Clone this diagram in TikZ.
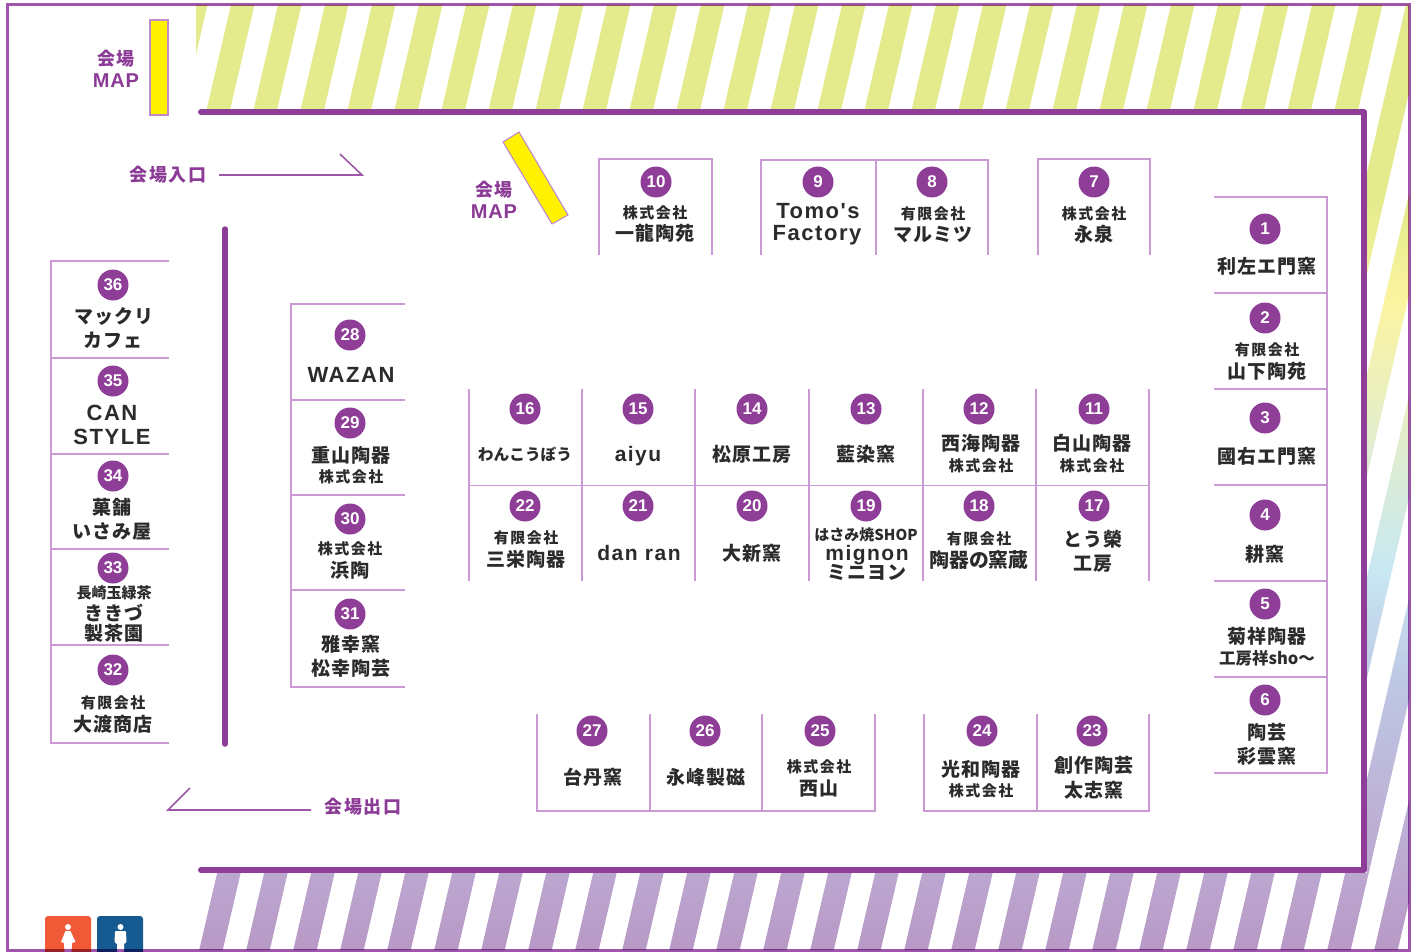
\documentclass[tikz,border=0pt]{standalone}
\usepackage{fontspec}
\usetikzlibrary{calc}
\newfontfamily\jpsp[LetterSpace=4]{Noto Sans CJK JP}
\newfontfamily\jpss[LetterSpace=10]{Noto Sans CJK JP}
\newfontfamily\jpla[LetterSpace=9]{Noto Sans CJK JP}
\newfontfamily\jptight{Noto Sans CJK JP}
\newfontfamily\latsp[LetterSpace=7]{Liberation Sans Bold}
\newfontfamily\latsq[LetterSpace=4]{Liberation Sans Bold}
\newfontfamily\latnum{Liberation Sans}
\definecolor{wall}{HTML}{8F3E98}
\definecolor{boothline}{HTML}{CB9AD4}
\definecolor{framec}{HTML}{A055AC}
\definecolor{inkc}{HTML}{2B2B2B}
\definecolor{labelc}{HTML}{8B3A96}
\definecolor{mapy}{HTML}{FFF100}
\definecolor{mapl}{HTML}{C08ACB}
\tikzset{
  numc/.style={circle,fill=wall,minimum size=31pt,inner sep=0pt,text=white,font=\latnum\bfseries\fontsize{17}{17}\selectfont},
  big/.style={inner sep=0pt,yshift=-0.5pt,text=inkc,font=\jpsp\bfseries\fontsize{19}{19}\selectfont},
  small/.style={inner sep=0pt,text=inkc,font=\jpss\bfseries\fontsize{15}{15}\selectfont},
  tight/.style={inner sep=0pt,yshift=-0.5pt,text=inkc,font=\jptight\bfseries\fontsize{15.7}{16}\selectfont},
  tights/.style={inner sep=0pt,text=inkc,font=\jptight\bfseries\fontsize{15}{15}\selectfont},
  lat/.style={inner sep=0pt,text=inkc,font=\latsp\bfseries\fontsize{22}{22}\selectfont},
  lats/.style={inner sep=0pt,text=inkc,font=\latsp\bfseries\fontsize{21}{21}\selectfont},
  lab/.style={inner sep=0pt,text=labelc,font=\jpla\bfseries\fontsize{18}{18}\selectfont},
  labl/.style={inner sep=0pt,text=labelc,font=\latsq\bfseries\fontsize{20}{20}\selectfont},
  bline/.style={draw=boothline,line width=1.3pt},
  wallline/.style={draw=wall,line width=6pt,line cap=round,line join=round},
  arrowline/.style={draw=labelc!85,line width=1.6pt,line join=miter},
  mapbox/.style={fill=mapy,draw=mapl,line width=1.1pt},
}
\begin{document}
\begin{tikzpicture}[x=1pt,y=-1pt]
\useasboundingbox (0,0) rectangle (1418,952);
\fill[white] (0,0) rectangle (1418,952);
% striped band
\begin{scope}
\clip (196,5) -- (1409,5) -- (1409,950) -- (198,950) -- (198,873) -- (1367,873) -- (1367,109) -- (196,109) -- cycle;
\clip foreach \k in {-1,...,31} {
  ($(207+47*\k-0.2325*892,1000)$) -- ($(207+47*\k+0.2325*108,0)$) -- ($(207+47*\k+23.5+0.2325*108,0)$) -- ($(207+47*\k+23.5-0.2325*892,1000)$) -- cycle
};
\fill[white] (0,0) rectangle (1418,952);
\fill[color={rgb,255:red,227;green,235;blue,140}] (150,0) rectangle (1418,205);
\shade[top color={rgb,255:red,227;green,235;blue,140},bottom color={rgb,255:red,252;green,244;blue,160}] (150,200) rectangle (1418,300);
\shade[top color={rgb,255:red,252;green,244;blue,160},bottom color={rgb,255:red,224;green,237;blue,208}] (150,299) rectangle (1418,450);
\shade[top color={rgb,255:red,224;green,237;blue,208},bottom color={rgb,255:red,200;green,232;blue,242}] (150,449) rectangle (1418,570);
\shade[top color={rgb,255:red,200;green,232;blue,242},bottom color={rgb,255:red,190;green,200;blue,228}] (150,569) rectangle (1418,680);
\shade[top color={rgb,255:red,190;green,200;blue,228},bottom color={rgb,255:red,188;green,168;blue,208}] (150,679) rectangle (1418,870);
\shade[top color={rgb,255:red,188;green,168;blue,208},bottom color={rgb,255:red,184;green,152;blue,198}] (150,869) rectangle (1418,952);
\end{scope}
% walls
\draw[wallline] (201,112) -- (1364,112) -- (1364,870) -- (201,870);
\draw[wallline,line width=5.5pt] (225,229) -- (225,744);
% map boards
\draw[mapbox] (150,20) rectangle (168,115);
\draw[mapbox] (503,142) -- (519,132) -- (568,215) -- (552,224) -- cycle;
\node[lab] (mapa) at (116,59) {会場};
\node[labl] (mapb) at (116,81) {MAP};
\node[lab] (mapc) at (494,190) {会場};
\node[labl] (mapd) at (494,212) {MAP};
% entrance / exit
\node[lab] (ent) at (168,175) {会場入口};
\node[lab] (ext) at (363,807) {会場出口};
\coordinate (enta) at (219,175);
\coordinate (entb) at (362,175);
\coordinate (entc) at (340,154);
\coordinate (exta) at (311,810);
\coordinate (extb) at (168,810);
\coordinate (extc) at (190,788);
\draw[arrowline] (enta) -- (entb) -- (entc);
\draw[arrowline] (exta) -- (extb) -- (extc);
% booth outlines
\draw[bline] (1214,197) -- (1327,197) -- (1327,773) -- (1214,773);
\foreach \y in {293,389,485,581,677} \draw[bline] (1214,\y) -- (1327,\y);
\draw[bline] (599,255) -- (599,159) -- (712,159) -- (712,255);
\draw[bline] (761,255) -- (761,160) -- (988,160) -- (988,255);
\draw[bline] (876,160) -- (876,255);
\draw[bline] (1038,255) -- (1038,159) -- (1150,159) -- (1150,255);
\foreach \x in {469,582,695,809,923,1036,1149} \draw[bline] (\x,389) -- (\x,581);
\draw[bline] (469,485.5) -- (1149,485.5);
\draw[bline] (537,714) -- (537,811) -- (875,811) -- (875,714);
\draw[bline] (650,714) -- (650,811);
\draw[bline] (762,714) -- (762,811);
\draw[bline] (924,714) -- (924,811) -- (1149,811) -- (1149,714);
\draw[bline] (1037,714) -- (1037,811);
\draw[bline] (169,261) -- (51,261) -- (51,743) -- (169,743);
\foreach \y in {358,454,549,645} \draw[bline] (51,\y) -- (169,\y);
\draw[bline] (405,304) -- (291,304) -- (291,687) -- (405,687);
\foreach \y in {400,495,590} \draw[bline] (291,\y) -- (405,\y);
% right column
\node[numc] (n1) at (1265,229) {1};
\node[big] (t1) at (1267,266) {利左エ門窯};
\node[numc] (n2) at (1265,318) {2};
\node[small] (t2a) at (1267,350) {有限会社};
\node[big] (t2b) at (1267,371) {山下陶苑};
\node[numc] (n3) at (1265,418) {3};
\node[big] (t3) at (1267,456) {國右エ門窯};
\node[numc] (n4) at (1265,515) {4};
\node[big] (t4) at (1265,554) {耕窯};
\node[numc] (n5) at (1265,604) {5};
\node[big] (t5a) at (1267,636) {菊祥陶器};
\node[tights,font=\jptight\bfseries\fontsize{16.5}{17}\selectfont] (t5b) at (1267,658) {工房祥sho〜};
\node[numc] (n6) at (1265,700) {6};
\node[big] (t6a) at (1267,732) {陶芸};
\node[big] (t6b) at (1267,756) {彩雲窯};
% top row
\node[numc] (n10) at (656,182) {10};
\node[small] (t10a) at (655,213) {株式会社};
\node[big] (t10b) at (655,233) {一龍陶苑};
\node[numc] (n9) at (818,182) {9};
\node[lat] (t9a) at (818,211) {Tomo's};
\node[lat] (t9b) at (817,235) {Factory};
\node[numc] (n8) at (932,182) {8};
\node[small] (t8a) at (933,214) {有限会社};
\node[big] (t8b) at (933,234) {マルミツ};
\node[numc] (n7) at (1094,182) {7};
\node[small] (t7a) at (1094,214) {株式会社};
\node[big] (t7b) at (1094,234) {永泉};
% middle block, upper row
\node[numc] (n16) at (525,409) {16};
\node[tight] (t16) at (525,454) {わんこうぼう};
\node[numc] (n15) at (638,409) {15};
\node[lats] (t15) at (638,456) {aiyu};
\node[numc] (n14) at (752,409) {14};
\node[big] (t14) at (752,454) {松原工房};
\node[numc] (n13) at (866,409) {13};
\node[big] (t13) at (866,454) {藍染窯};
\node[numc] (n12) at (979,409) {12};
\node[big] (t12a) at (981,443) {西海陶器};
\node[small] (t12b) at (981,466) {株式会社};
\node[numc] (n11) at (1094,409) {11};
\node[big] (t11a) at (1092,443) {白山陶器};
\node[small] (t11b) at (1092,466) {株式会社};
% middle block, lower row
\node[numc] (n22) at (525,506) {22};
\node[small] (t22a) at (526,538) {有限会社};
\node[big] (t22b) at (526,559) {三栄陶器};
\node[numc] (n21) at (638,506) {21};
\node[lats] (t21) at (639,553) {dan ran};
\node[numc] (n20) at (752,506) {20};
\node[big] (t20) at (752,553) {大新窯};
\node[numc] (n19) at (866,506) {19};
\node[tights] (t19a) at (866,535) {はさみ焼SHOP};
\node[lats] (t19b) at (867,555) {mignon};
\node[big] (t19c) at (867,571.5) {ミニヨン};
\node[numc] (n18) at (979,506) {18};
\node[small] (t18a) at (979,539) {有限会社};
\node[tight,font=\jptight\bfseries\fontsize{19.8}{20}\selectfont] (t18b) at (979,560) {陶器の窯蔵};
\node[numc] (n17) at (1094,506) {17};
\node[big] (t17a) at (1093,539) {とう榮};
\node[big] (t17b) at (1093,563) {工房};
% bottom row
\node[numc] (n27) at (592,731) {27};
\node[big] (t27) at (593,777) {台丹窯};
\node[numc] (n26) at (705,731) {26};
\node[big] (t26) at (706,777) {永峰製磁};
\node[numc] (n25) at (820,731) {25};
\node[small] (t25a) at (819,767) {株式会社};
\node[big] (t25b) at (819,788) {西山};
\node[numc] (n24) at (982,731) {24};
\node[big] (t24a) at (981,769) {光和陶器};
\node[small] (t24b) at (981,791) {株式会社};
\node[numc] (n23) at (1092,731) {23};
\node[big] (t23a) at (1094,765) {創作陶芸};
\node[big] (t23b) at (1094,790) {太志窯};
% left column
\node[numc] (n36) at (113,285) {36};
\node[big] (t36a) at (114,316) {マックリ};
\node[big] (t36b) at (113,340) {カフェ};
\node[numc] (n35) at (113,381) {35};
\node[lat] (t35a) at (112,413) {CAN};
\node[lat] (t35b) at (112,437) {STYLE};
\node[numc] (n34) at (113,476) {34};
\node[big] (t34a) at (112,507) {菓舗};
\node[big] (t34b) at (112,531) {いさみ屋};
\node[numc] (n33) at (113,568) {33};
\node[tights] (t33a) at (114,593) {長崎玉緑茶};
\node[big] (t33b) at (114,612) {ききづ};
\node[big] (t33c) at (114,633) {製茶園};
\node[numc] (n32) at (113,670) {32};
\node[small] (t32a) at (113,703) {有限会社};
\node[big] (t32b) at (113,724) {大渡商店};
% second column
\node[numc] (n28) at (350,335) {28};
\node[lat] (t28) at (351,375) {WAZAN};
\node[numc] (n29) at (350,423) {29};
\node[big] (t29a) at (351,455) {重山陶器};
\node[small] (t29b) at (351,477) {株式会社};
\node[numc] (n30) at (350,519) {30};
\node[small] (t30a) at (350,549) {株式会社};
\node[big] (t30b) at (350,570) {浜陶};
\node[numc] (n31) at (350,614) {31};
\node[big] (t31a) at (351,644) {雅幸窯};
\node[big] (t31b) at (351,668) {松幸陶芸};
% toilets
\fill[color={rgb,255:red,241;green,90;blue,54},rounded corners=3pt] (45,916) rectangle (91,960);
\fill[color={rgb,255:red,21;green,90;blue,145},rounded corners=3pt] (97,916) rectangle (143,960);
\fill[white] (68,927) circle (3pt);
\fill[white] (65.5,931) -- (70.5,931) -- (75.5,942) -- (72,943) -- (71.5,952) -- (64.5,952) -- (64,943) -- (61,942) -- cycle;
\fill[white] (120.5,927) circle (3pt);
\fill[white,rounded corners=1pt] (115,931) -- (126,931) -- (126.5,943) -- (124,943) -- (124,952) -- (117,952) -- (117,943) -- (114.5,943) -- cycle;
% outer frame
\begin{scope}[blend mode=multiply]
\draw[framec,line width=3pt] (7.5,4.5) rectangle (1409.5,950.5);
\end{scope}
\end{tikzpicture}
\end{document}
